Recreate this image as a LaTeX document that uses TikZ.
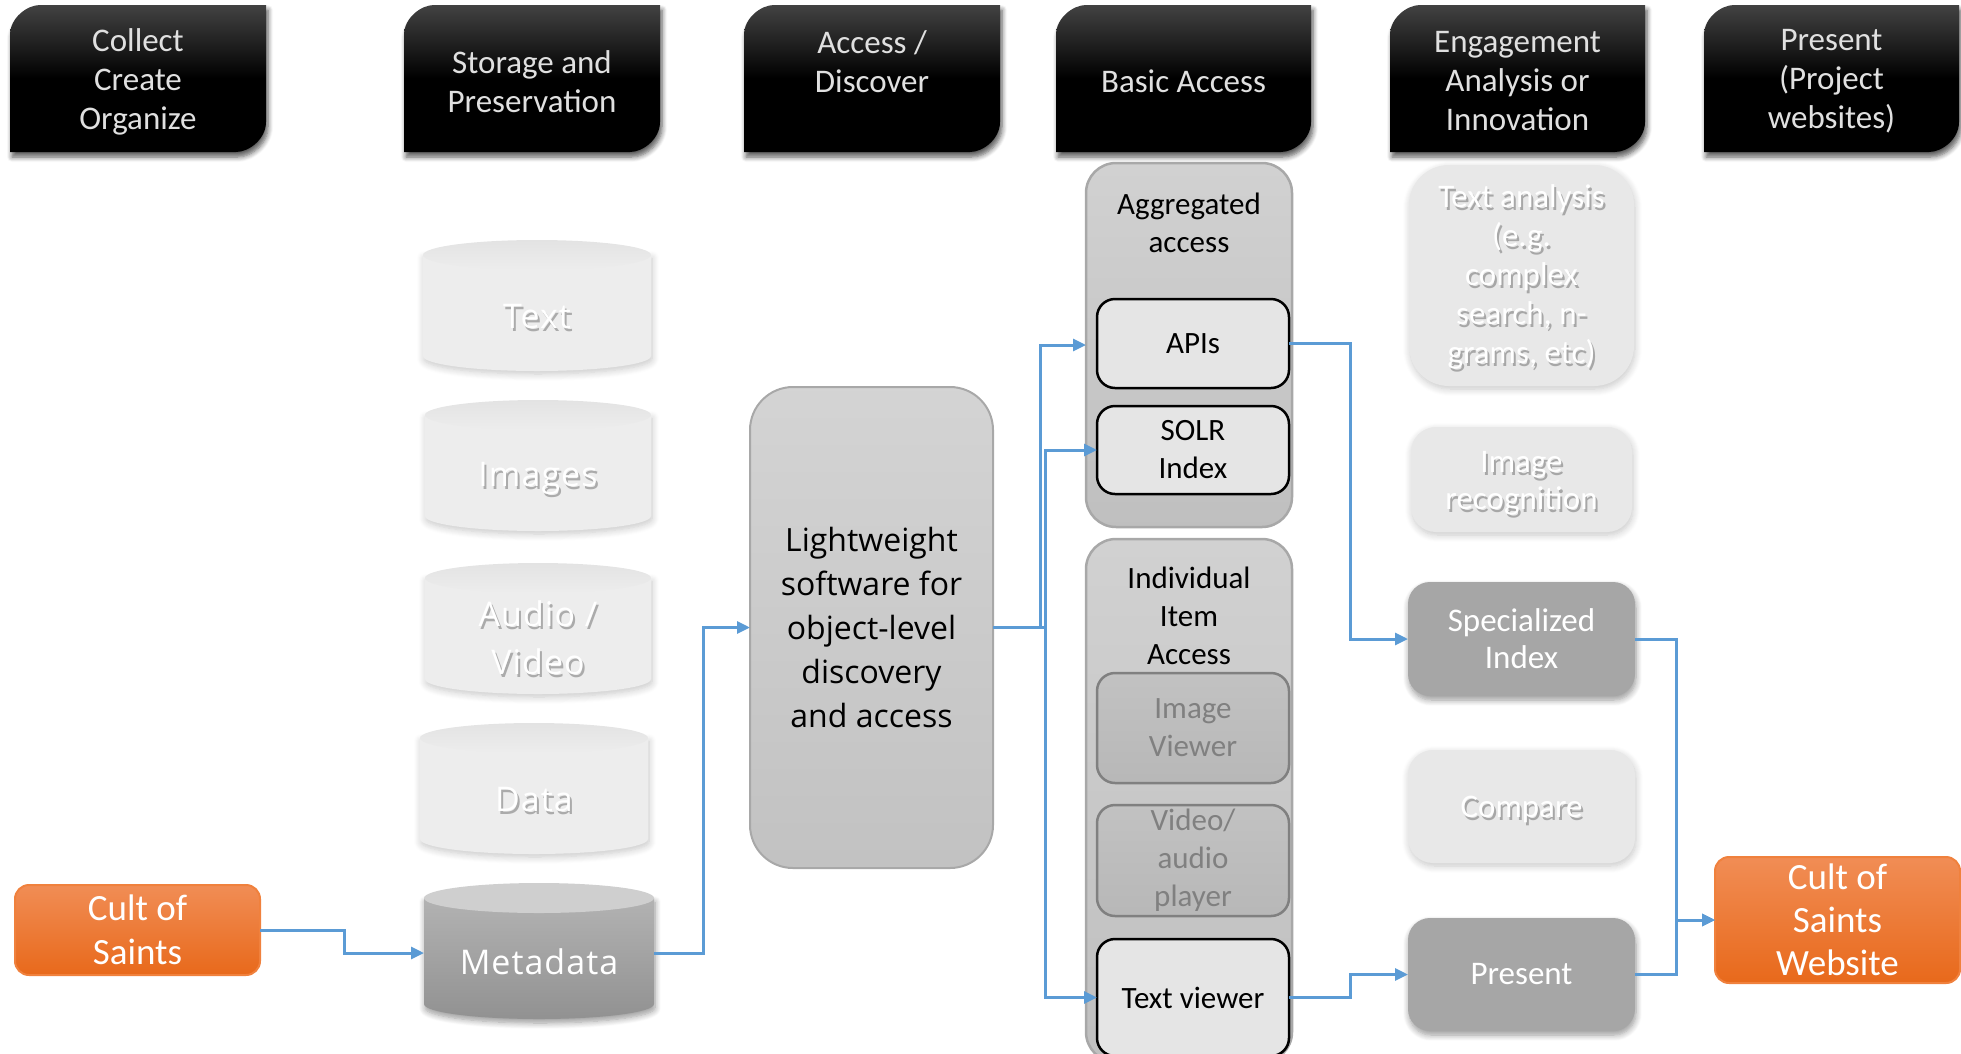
\documentclass[tikz,border=0pt]{standalone}
\usepackage{fontspec}
\setmainfont{Carlito}
\newfontfamily\cylfont[LetterSpace=3]{Open Sans}
\newfontfamily\opensans{Open Sans}
\usetikzlibrary{arrows.meta,shadows.blur}

\definecolor{link}{HTML}{5B9BD5}
\definecolor{orangetop}{HTML}{F18D55}
\definecolor{orangebot}{HTML}{E8691B}
\definecolor{orangeedge}{HTML}{F0813D}

% header tab: rounded top-left and bottom-right corners
\newcommand\hdrbox[6]{%
  \path[hdrshape] (#2,#3+30) .. controls (#2,#3+13) and (#2+17,#3) .. (#2+30,#3)
     -- (#4,#3) -- (#4,#5-30) .. controls (#4,#5-13) and (#4-17,#5) .. (#4-30,#5)
     -- (#2,#5) -- cycle;
  \node[hdrtext] (#1) at ({(#2+#4)/2},{(#3+#5)/2+3}) {#6};}

% storage cylinder: name, centre x, top y, bottom y, half width, body style, cap style
\newcommand\cyl[7]{%
  \path[#6] (#2-#5,#3+15) -- (#2-#5,#4-15)
     .. controls (#2-#5,#4-6.7) and (#2-0.552*#5,#4) .. (#2,#4)
     .. controls (#2+0.552*#5,#4) and (#2+#5,#4-6.7) .. (#2+#5,#4-15)
     -- (#2+#5,#3+15) -- cycle;
  \path[#7] (#2,#3+15) ellipse [x radius=#5, y radius=15];
  \node[plainbox, minimum width=2*#5, minimum height=#4-#3] (#1) at (#2,{(#3+#4)/2+2}) {};}

% white label with a soft grey drop shadow
\newcommand\softtext[4]{%
  \node[shadowtext, font=#3] (#1-shadow) at ([shift={(2,3)}]#2) {#4};
  \node[softlabel, font=#3] (#1) at (#2) {#4};}

\begin{document}
\begin{tikzpicture}[x=1pt, y=-1pt,
  hdrshape/.style={top color=black!74, bottom color=black, middle color=black,
    blur shadow={shadow xshift=2pt, shadow yshift=-5pt, shadow blur radius=5pt,
      shadow blur steps=6, shadow opacity=65}},
  hdrtext/.style={align=center, text=white!88!black,
    font=\fontsize{33}{39}\selectfont, inner sep=0pt},
  plainbox/.style={inner sep=0pt, outer sep=0pt, align=center},
  softshadow/.style={blur shadow={shadow xshift=1pt, shadow yshift=-3pt,
      shadow blur radius=7pt, shadow blur steps=8, shadow opacity=22}},
  shadowtext/.style={align=center, inner sep=0pt, text=black, text opacity=0.28},
  softlabel/.style={align=center, inner sep=0pt, text=white},
  lightbody/.style={fill=black!7, softshadow},
  lightcap/.style={top color=black!11, bottom color=black!7},
  metabody/.style={top color=black!30, bottom color=black!43,
    blur shadow={shadow xshift=1pt, shadow yshift=-4pt, shadow blur radius=6pt,
      shadow blur steps=8, shadow opacity=40}},
  metacap/.style={fill=black!19},
  groupbox/.style={plainbox, rounded corners=30pt, draw=black!34, line width=2.5pt,
    top color=black!18, bottom color=black!25},
  grouptitle/.style={align=center, inner sep=0pt, font=\fontsize{31}{38}\selectfont},
  activebox/.style={plainbox, rounded corners=18pt, draw=black, line width=2.5pt,
    fill=black!10, font=\fontsize{31}{38}\selectfont},
  dimbox/.style={plainbox, rounded corners=18pt, draw=black!50, line width=2.5pt,
    top color=black!24, bottom color=black!28, text=black!50,
    font=\fontsize{31}{38}\selectfont},
  lightbox/.style={plainbox, fill=black!9, softshadow},
  darkbox/.style={plainbox, rounded corners=22pt, fill=black!35, text=white,
    font=\fontsize{33}{37}\selectfont,
    blur shadow={shadow xshift=1pt, shadow yshift=-4pt, shadow blur radius=6pt,
      shadow blur steps=8, shadow opacity=40}},
  orangebox/.style={plainbox, rounded corners=14pt, draw=orangeedge, line width=2pt,
    top color=orangetop, bottom color=orangebot, text=white,
    font=\fontsize{37}{44}\selectfont},
  conn/.style={draw=link, line width=3pt,
    -{Triangle[length=13pt, width=12pt]}},
]
\useasboundingbox (0,0) rectangle (1961,1053);
\clip (0,0) rectangle (1961,1053);

% column headers
\hdrbox{hcollect}{10}{5}{266}{152}{Collect\\Create\\Organize}
\hdrbox{hstorage}{404}{5}{660}{152}{Storage and\\Preservation}
\hdrbox{haccess}{744}{5}{1000}{152}{Access /\\Discover\\\mbox{}}
\hdrbox{hbasic}{1056}{5}{1311}{152}{Basic Access}
\hdrbox{hengage}{1390}{5}{1645}{152}{Engagement\\Analysis or\\Innovation}
\hdrbox{hpresent}{1704}{5}{1959}{152}{Present\\(Project\\websites)}

% storage cylinders
\cyl{text}{537}{240}{371}{114}{lightbody}{lightcap}
\cyl{images}{538}{400}{531}{113}{lightbody}{lightcap}
\cyl{av}{538}{563}{694}{113}{lightbody}{lightcap}
\cyl{data}{534}{723}{854}{114}{lightbody}{lightcap}
\cyl{meta}{539}{883}{1019}{115}{metabody}{metacap}

\softtext{textlbl}{537,317}{\cylfont\fontsize{34}{48}\selectfont}{Text}
\softtext{imageslbl}{538,478}{\cylfont\fontsize{34}{48}\selectfont}{Images}
\softtext{avlbl}{538,638}{\cylfont\fontsize{34}{48}\selectfont}{Audio /\\Video}
\softtext{datalbl}{534,800}{\cylfont\fontsize{34}{48}\selectfont}{Data}
\node[softlabel, font=\cylfont\fontsize{34}{48}\selectfont] (metalbl) at (539,962) {Metadata};

% project sources and outputs
\node[orangebox, minimum width=245, minimum height=90] (cos) at (137.5,930) {Cult of\\Saints};
\node[orangebox, minimum width=245, minimum height=126, font=\fontsize{37}{43}\selectfont] (web) at (1837.5,920) {Cult of\\Saints\\Website};

% discovery layer
\node[plainbox, rounded corners=43pt, draw=black!34, line width=2pt,
  top color=black!17, bottom color=black!24, minimum width=243, minimum height=481,
  font=\opensans\fontsize{32}{44}\selectfont] (lw) at (871.5,627.5)
  {Lightweight\\software for\\object-level\\discovery\\and access};

% basic access
\node[groupbox, minimum width=206, minimum height=364] (agg) at (1189,345) {};
\node[grouptitle] (aggtitle) at (1189,223) {Aggregated\\access};
\node[activebox, minimum width=192, minimum height=89] (apis) at (1193,343.5) {APIs};
\node[activebox, minimum width=192, minimum height=88] (solr) at (1193,450) {SOLR\\Index};

\node[groupbox, minimum width=206, minimum height=523] (indiv) at (1189,800.5) {};
\node[grouptitle] (indivtitle) at (1189,616) {Individual\\Item\\Access};
\node[dimbox, minimum width=192, minimum height=110] (imgview) at (1193,728) {Image\\Viewer};
\node[dimbox, minimum width=192, minimum height=111] (avplayer) at (1193,860.5) {Video/\\audio\\player};
\node[activebox, minimum width=192, minimum height=117] (tview) at (1193,997.5) {Text viewer};

% engagement
\node[lightbox, rounded corners=40pt, minimum width=225, minimum height=221] (txtan) at (1521.5,275.5) {};
\softtext{txtanlbl}{1521.5,277}{\fontsize{33}{39}\selectfont}{Text analysis\\(e.g.\\complex\\search, n-\\grams, etc)}
\node[lightbox, rounded corners=25pt, minimum width=221, minimum height=105] (imgrec) at (1521.5,479.5) {};
\softtext{imgreclbl}{1521.5,483}{\fontsize{33}{37}\selectfont}{Image\\recognition}
\node[darkbox, minimum width=227, minimum height=114] (spec) at (1521.5,639) {Specialized\\Index};
\node[lightbox, rounded corners=25pt, minimum width=227, minimum height=113] (compare) at (1521.5,806.5) {};
\softtext{comparelbl}{1521.5,809}{\fontsize{33}{37}\selectfont}{Compare}
\node[darkbox, minimum width=227, minimum height=113] (present) at (1521.5,974.5) {Present};

% connectors
\draw[conn] (cos.east) -- ++(84,0) |- (meta.west);
\draw[conn] (meta.east) -- ++(49,0) |- (lw.west);
\draw[conn] (lw.east) -- ++(47,0) |- (agg.west);
\draw[conn] (lw.east) -- ++(52,0) |- (solr.west);
\draw[conn] (lw.east) -- ++(52,0) |- (tview.west);
\draw[conn] (apis.east) -- ++(61,0) |- (spec.west);
\draw[conn] (tview.east) -- ++(61,0) |- (present.west);
\draw[conn] (spec.east) -- ++(41,0) |- (web.west);
\draw[conn] (present.east) -- ++(41,0) |- (web.west);
\end{tikzpicture}
\end{document}
